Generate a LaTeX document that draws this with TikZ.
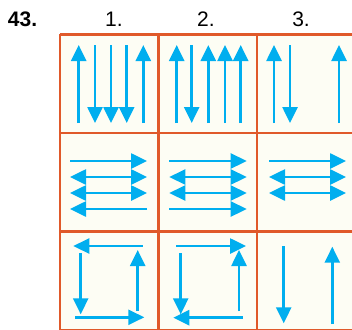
\documentclass[tikz,border=0pt]{standalone}
\usepackage{fontspec}
\setmainfont{Liberation Sans}
\usetikzlibrary{arrows.meta}
\definecolor{gridorange}{HTML}{E0592A}
\definecolor{arrowblue}{HTML}{00AEEF}
\definecolor{cream}{HTML}{FDFDF4}
\begin{document}
\begin{tikzpicture}[x=1pt,y=-1pt,
  gridline/.style={draw=gridorange,line width=2.5pt},
  arr/.style={draw=arrowblue,line width=2.6pt,-{Triangle[width=15pt,length=16pt]}},
  darr/.style={draw=arrowblue,line width=2.6pt,{Triangle[width=15pt,length=16pt]}-{Triangle[width=15pt,length=16pt]}},
  plain/.style={draw=arrowblue,line width=2.6pt},
  lbl/.style={font=\fontsize{21}{24}\selectfont,anchor=base,inner sep=0pt}]
\useasboundingbox (0,0) rectangle (352,329);
\begin{scope}
\clip (0,0) rectangle (352,329);
\fill[cream] (60,34.5) rectangle (360,335);
\foreach \x in {60,158.5,257,355.5} \draw[gridline] (\x,34.5) -- (\x,335);
\foreach \y in {34.5,133,231.5,330} \draw[gridline] (60,\y) -- (360,\y);
\end{scope}
% labels
\node[lbl,font=\fontsize{21}{24}\selectfont\bfseries] (n43) at (22.5,26.7) {43.};
\node[lbl] (c1) at (114,26.7) {1.};
\node[lbl] (c2) at (206,26.7) {2.};
\node[lbl] (c3) at (301,26.7) {3.};
% row 1
\foreach \x in {78.7,143.3} \draw[arr] (\x,123) -- (\x,45);
\foreach \x in {95,111,126.7} \draw[arr] (\x,45) -- (\x,123);
\foreach \x in {176.7,208.3,225,240.7} \draw[arr] (\x,123) -- (\x,45);
\draw[arr] (191.7,45) -- (191.7,123);
\foreach \x in {274,339} \draw[arr] (\x,123) -- (\x,45);
\draw[arr] (290,45) -- (290,123);
% row 2
\draw[arr] (70,161) -- (147,161);
\draw[darr] (70,177) -- (147,177);
\draw[darr] (70,193) -- (147,193);
\draw[arr] (147,209) -- (70,209);
\draw[arr] (169.3,161) -- (246.7,161);
\draw[darr] (169.3,177) -- (246.7,177);
\draw[darr] (169.3,193) -- (246.7,193);
\draw[arr] (169.3,209) -- (246.7,209);
\draw[arr] (269,161) -- (346,161);
\draw[darr] (269,177) -- (346,177);
\draw[darr] (269,193) -- (346,193);
% row 3
\draw[arr] (142.7,246) -- (73.3,246);
\draw[arr] (80.7,253.3) -- (80.7,314.3);
\draw[arr] (75,317.3) -- (144.3,317.3);
\draw[arr] (137.7,311) -- (137.7,250);
\draw[arr] (176,246) -- (246,246);
\draw[arr] (180.7,253.3) -- (180.7,314.3);
\draw[arr] (242.7,317.7) -- (173.3,317.7);
\draw[arr] (239,311) -- (239,250);
\draw[arr] (283.7,246) -- (283.7,323.3);
\draw[arr] (332.3,324) -- (332.3,246.7);
\end{tikzpicture}
\end{document}
